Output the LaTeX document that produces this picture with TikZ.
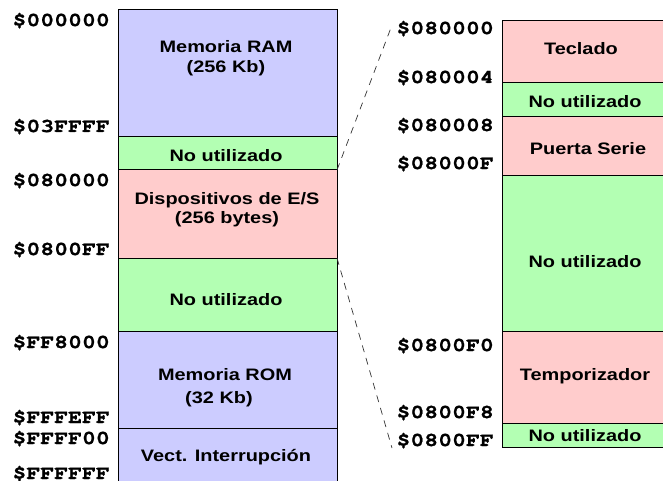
\documentclass[tikz,border=0pt]{standalone}
\usepackage{fontspec}
\setmainfont{Liberation Sans}[FakeStretch=1.2]
\newfontfamily\addrfont{TeX Gyre Cursor}[FakeStretch=1.2, BoldFeatures={FakeBold=1.2}]
\definecolor{ramcol}{HTML}{CCCCFF}
\definecolor{freecol}{HTML}{B3FFB3}
\definecolor{iocol}{HTML}{FFCCCC}
\tikzset{
  mem/.style={draw=black, line width=1pt, anchor=north west, inner sep=0pt, outer sep=0pt},
  lbl/.style={font=\bfseries\fontsize{16.6}{20}\selectfont, align=center, inner sep=0pt, anchor=base},
  addr/.style={font=\addrfont\bfseries\fontsize{19.3}{20}\selectfont, inner sep=0pt, anchor=base east},
  zoomline/.style={draw=black!80, line width=0.7pt, dash pattern=on 7pt off 6pt},
}
\begin{document}
\begin{tikzpicture}[x=1pt, y=-1pt]
\useasboundingbox (0,0) rectangle (663,481);
\clip (0,0) rectangle (663,481);

% ---- full memory map ----
\node[mem, fill=ramcol,  minimum width=219pt, minimum height=127pt] (ram)  at (118,10)  {};
\node[mem, fill=freecol, minimum width=219pt, minimum height=33pt]  (nu1)  at (118,137) {};
\node[mem, fill=iocol,   minimum width=219pt, minimum height=88pt]  (io)   at (118,170) {};
\node[mem, fill=freecol, minimum width=219pt, minimum height=73pt]  (nu2)  at (118,258) {};
\node[mem, fill=ramcol,  minimum width=219pt, minimum height=97pt]  (rom)  at (118,331) {};
\node[mem, fill=ramcol,  minimum width=219pt, minimum height=70pt]  (vect) at (118,428) {};

\node[lbl] (tram)  at (226,53)  {Memoria RAM};
\node[lbl] (tram2) at (226,72.7){(256 Kb)};
\node[lbl] (tnu1)  at (226,161.7) {No utilizado};
\node[lbl] (tio)   at (227,204) {Dispositivos de E/S};
\node[lbl] (tio2)  at (227,223) {(256 bytes)};
\node[lbl] (tnu2)  at (226,305.7) {No utilizado};
\node[lbl] (trom)  at (225,380) {Memoria ROM};
\node[lbl] (trom2) at (219,403.3) {(32 Kb)};
\node[lbl] (tvect) at (226,461.7) {Vect. Interrupción};

\node[addr] (a1) at (110,26)  {\$000000};
\node[addr] (a2) at (110,132) {\$03FFFF};
\node[addr] (a3) at (110,186) {\$080000};
\node[addr] (a4) at (110,255) {\$0800FF};
\node[addr] (a5) at (110,348) {\$FF8000};
\node[addr] (a6) at (110,423) {\$FFFEFF};
\node[addr] (a7) at (110,444) {\$FFFF00};
\node[addr] (a8) at (110,479) {\$FFFFFF};

% ---- I/O area detail ----
\node[mem, fill=iocol,   minimum width=170pt, minimum height=62pt]  (tec)  at (502,21)  {};
\node[mem, fill=freecol, minimum width=170pt, minimum height=34pt]  (rn1)  at (502,83)  {};
\node[mem, fill=iocol,   minimum width=170pt, minimum height=58pt]  (ser)  at (502,117) {};
\node[mem, fill=freecol, minimum width=170pt, minimum height=156pt] (rn2)  at (502,175) {};
\node[mem, fill=iocol,   minimum width=170pt, minimum height=92pt]  (tmp)  at (502,331) {};
\node[mem, fill=freecol, minimum width=170pt, minimum height=24pt]  (rn3)  at (502,423) {};

\node[lbl] (ttec) at (581,54.3)  {Teclado};
\node[lbl] (trn1) at (585,107.3) {No utilizado};
\node[lbl] (tser) at (588,155)   {Puerta Serie};
\node[lbl] (trn2) at (585,267.3) {No utilizado};
\node[lbl] (ttmp) at (585,380)   {Temporizador};
\node[lbl] (trn3) at (585,441.7) {No utilizado};

\node[addr] (b1) at (494,34)  {\$080000};
\node[addr] (b2) at (494,83)  {\$080004};
\node[addr] (b3) at (494,131) {\$080008};
\node[addr] (b4) at (494,169) {\$08000F};
\node[addr] (b5) at (494,351) {\$0800F0};
\node[addr] (b6) at (494,418) {\$0800F8};
\node[addr] (b7) at (494,446) {\$0800FF};

% ---- zoom lines ----
\coordinate (ztop) at (392,25);
\coordinate (zbot) at (392,448);
\draw[zoomline] (io.north east) -- (ztop);
\draw[zoomline] (io.south east) -- (zbot);
\end{tikzpicture}
\end{document}
